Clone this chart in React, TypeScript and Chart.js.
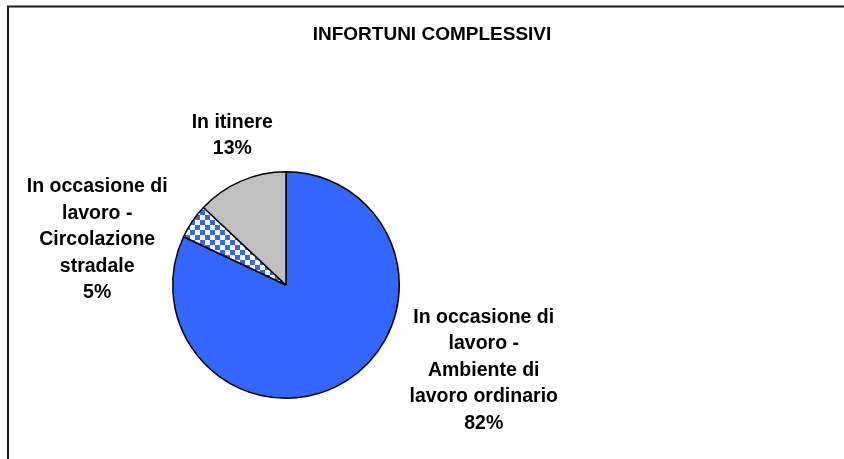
import React, { useEffect, useRef } from "react";
import { Chart, registerables } from "chart.js";

Chart.register(...registerables);

// ---- data ----
const TITLE = "INFORTUNI COMPLESSIVI";
const CATEGORIES: string[][] = [
  ["In occasione di", "lavoro -", "Ambiente di", "lavoro ordinario"],
  ["In occasione di", "lavoro -", "Circolazione", "stradale"],
  ["In itinere"],
];
const VALUES = [82, 5, 13];
const PERCENT_LABELS = ["82%", "5%", "13%"];

// ---- layout / style ----
// label anchor (centre x, first baseline) relative to the pie centre, in units of the radius
const LABEL_OFFSETS = [
  [1.746, 0.336],
  [-1.667, -0.818],
  [-0.474, -1.389],
];
const LABEL_FONT = "bold 19.5px 'Liberation Sans', Arial, sans-serif";
const LABEL_LINE = 26.4;
const BLUE = "#3366FF";
const GREY = "#C0C0C0";

function makeChecker(): CanvasPattern | string {
  const c = document.createElement("canvas");
  c.width = 10;
  c.height = 10;
  const g = c.getContext("2d");
  if (!g) return BLUE;
  g.fillStyle = "#FFFFFF";
  g.fillRect(0, 0, 10, 10);
  g.fillStyle = BLUE;
  g.fillRect(0, 0, 5, 5);
  g.fillRect(5, 5, 5, 5);
  const p = g.createPattern(c, "repeat");
  return p || BLUE;
}

const framePlugin = {
  id: "frame",
  beforeDraw(chart: any) {
    const ctx = chart.ctx;
    ctx.save();
    ctx.fillStyle = "#FFFFFF";
    ctx.fillRect(0, 0, chart.width, chart.height);
    ctx.strokeStyle = "#1a1a1a";
    ctx.lineWidth = 2;
    ctx.strokeRect(8, 6.5, chart.width + 20, chart.height + 20);
    ctx.fillStyle = "#000000";
    ctx.font = "bold 19px 'Liberation Sans', Arial, sans-serif";
    ctx.textAlign = "center";
    ctx.textBaseline = "alphabetic";
    ctx.fillText(TITLE, 432, 39.5);
    ctx.restore();
  },
};

const labelPlugin = {
  id: "outerLabels",
  afterDraw(chart: any) {
    const ctx = chart.ctx;
    const meta = chart.getDatasetMeta(0);
    ctx.save();
    ctx.fillStyle = "#000000";
    ctx.font = LABEL_FONT;
    ctx.textAlign = "center";
    ctx.textBaseline = "alphabetic";
    meta.data.forEach((arc: any, i: number) => {
      const { x, y, outerRadius } = arc.getProps(["x", "y", "outerRadius"], true);
      const off = LABEL_OFFSETS[i];
      const lx = x + off[0] * outerRadius;
      let ly = y + off[1] * outerRadius;
      const lines = [...CATEGORIES[i], PERCENT_LABELS[i]];
      lines.forEach((t) => {
        ctx.fillText(t, lx, ly);
        ly += LABEL_LINE;
      });
    });
    ctx.restore();
  },
};

export default function App() {
  const ref = useRef<HTMLCanvasElement | null>(null);
  useEffect(() => {
    if (!ref.current) return;
    const chart = new Chart(ref.current, {
      type: "pie",
      data: {
        labels: CATEGORIES.map((c) => c.join(" ")),
        datasets: [
          {
            data: VALUES,
            backgroundColor: [BLUE, makeChecker(), GREY] as any,
            borderColor: "#000000",
            borderWidth: 1.5,
          },
        ],
      },
      options: {
        responsive: false,
        animation: false,
        events: [],
        layout: { padding: { left: 172, top: 171, right: 444, bottom: 60 } },
        plugins: {
          legend: { display: false },
          tooltip: { enabled: false },
          title: { display: false },
        },
      },
      plugins: [framePlugin, labelPlugin],
    });
    return () => chart.destroy();
  }, []);
  return (
    <div style={{ position: "absolute", left: 0, top: 0, width: 844, height: 459 }}>
      <canvas ref={ref} width={844} height={459} />
    </div>
  );
}
